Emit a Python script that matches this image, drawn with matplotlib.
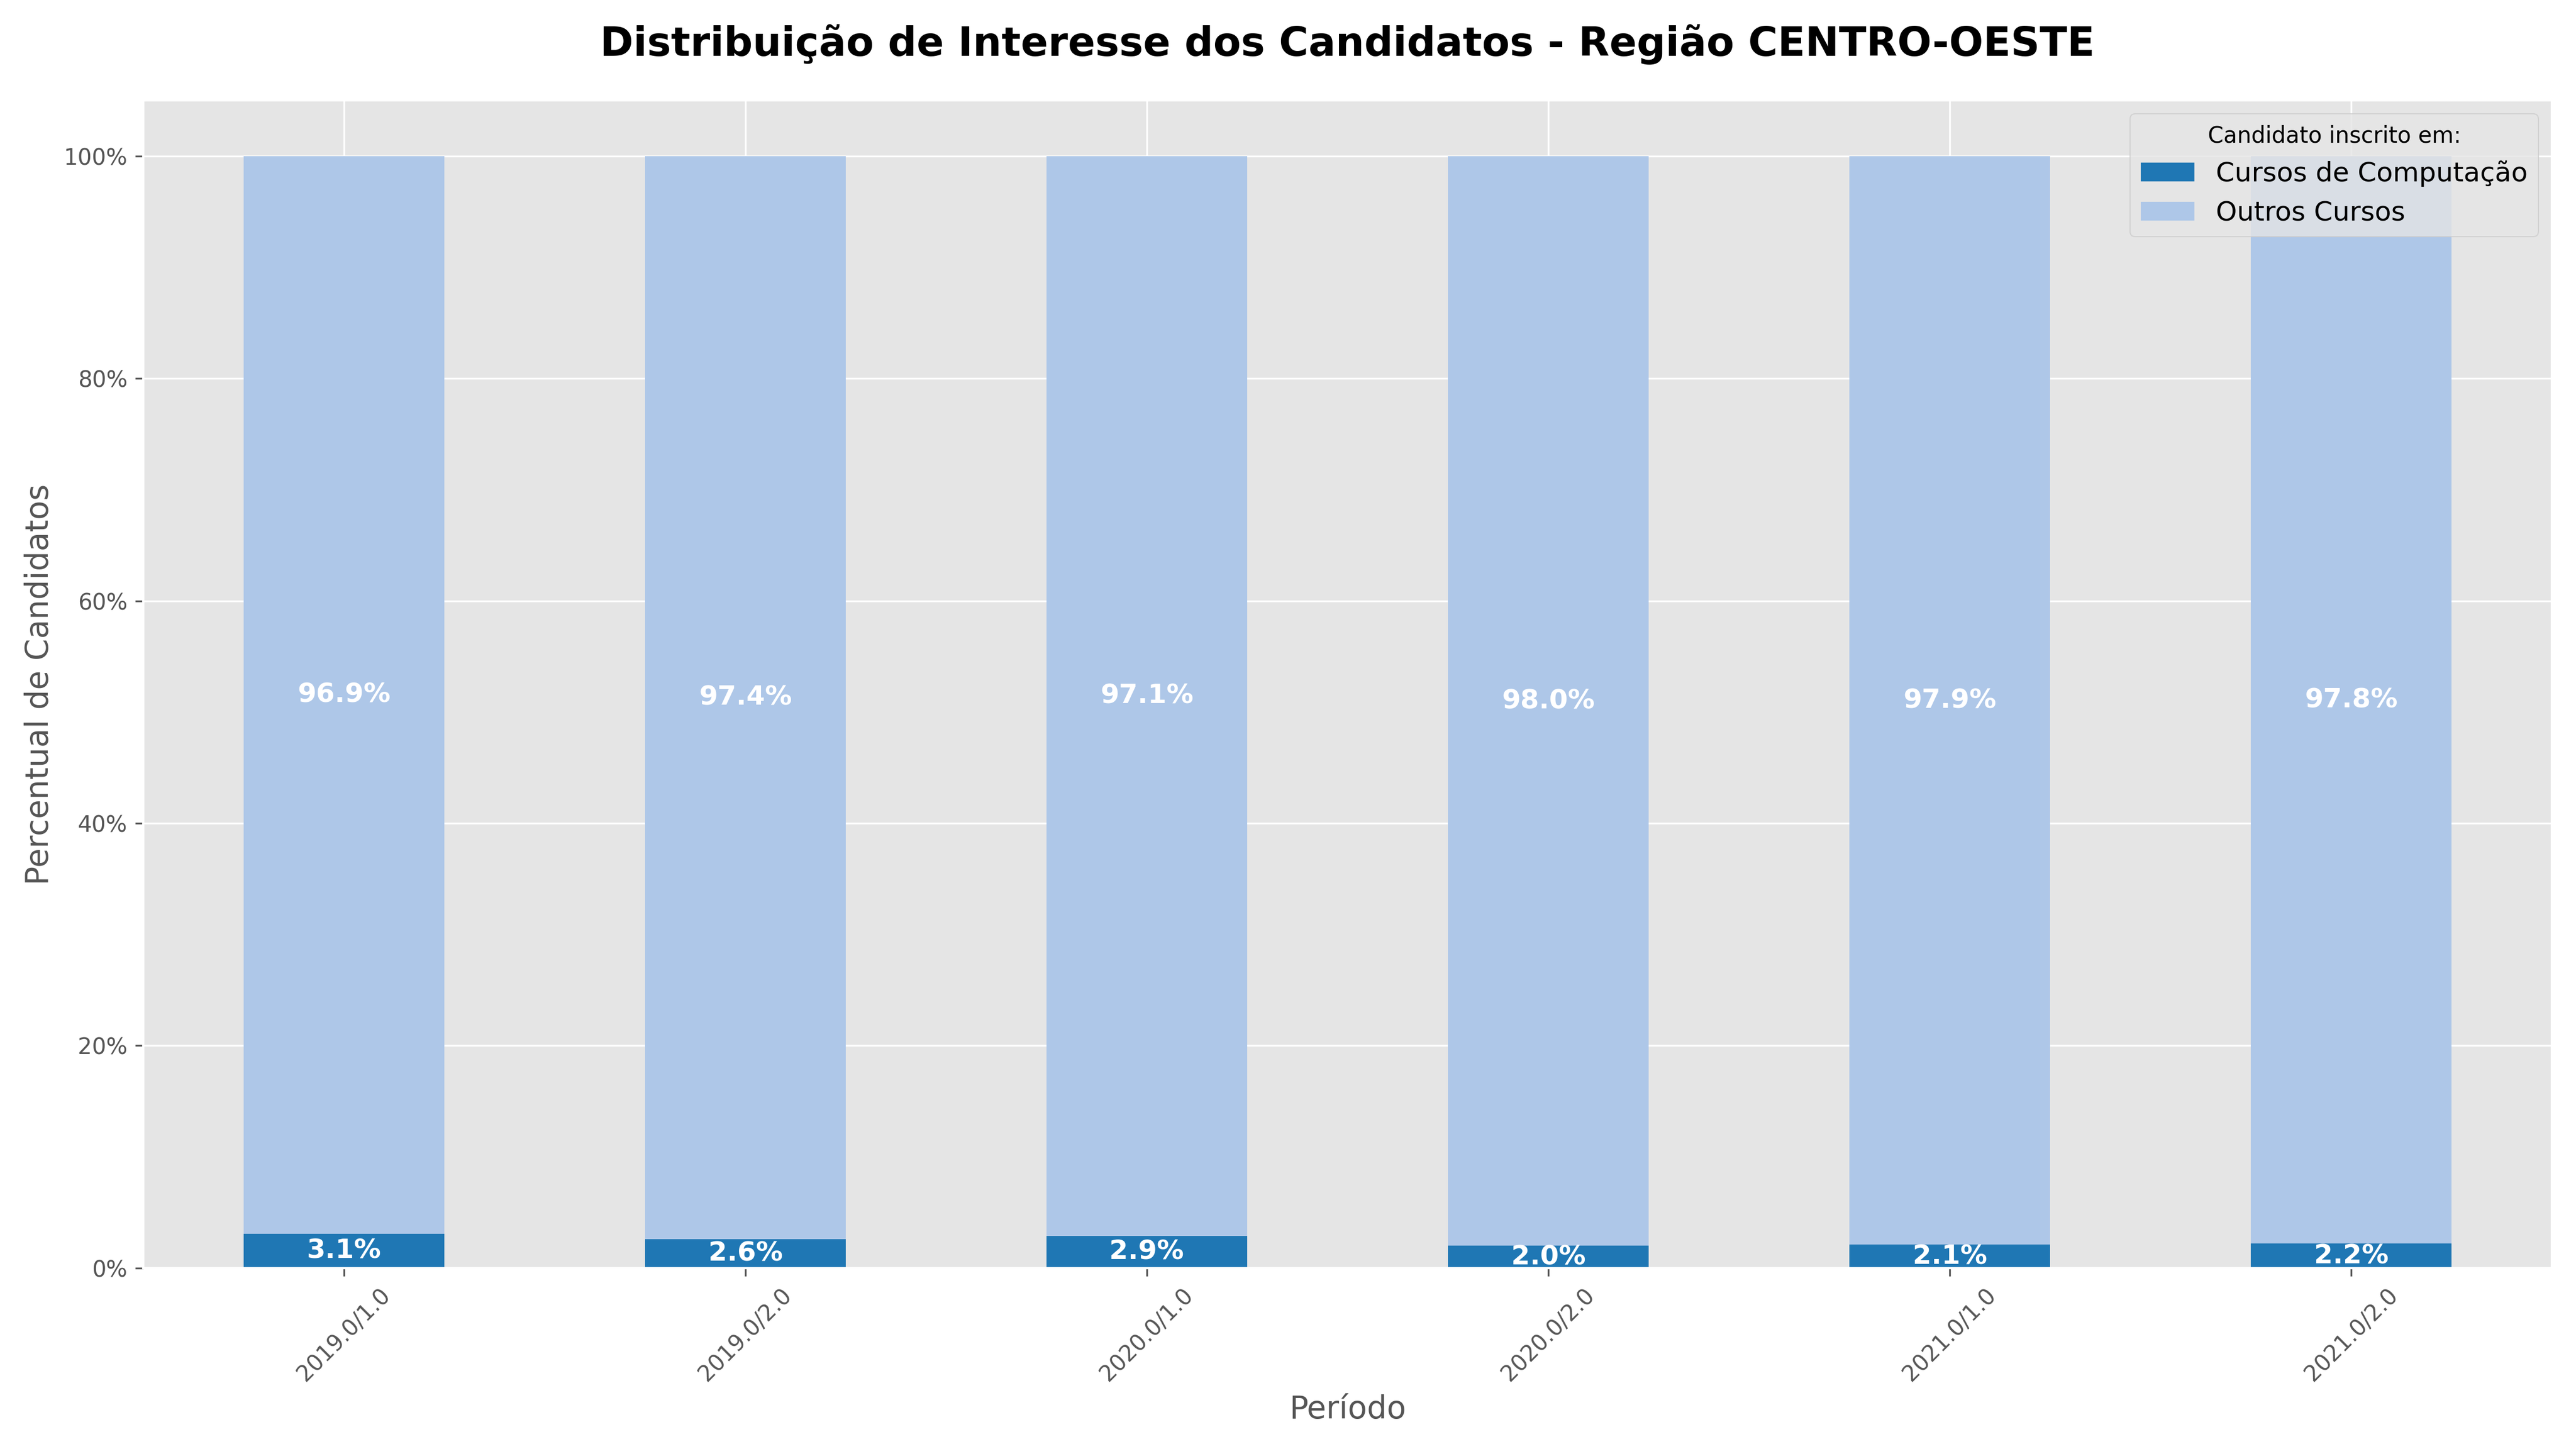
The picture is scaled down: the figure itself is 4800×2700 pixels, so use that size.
import matplotlib
matplotlib.use('Agg')
import matplotlib.pyplot as plt
from matplotlib.ticker import PercentFormatter
import numpy as np

plt.style.use('ggplot')

periodos = ['2019.0/1.0', '2019.0/2.0', '2020.0/1.0', '2020.0/2.0', '2021.0/1.0', '2021.0/2.0']
computacao = [3.1, 2.6, 2.9, 2.0, 2.1, 2.2]
outros = [96.9, 97.4, 97.1, 98.0, 97.9, 97.8]

fig, ax = plt.subplots(figsize=(16, 9), dpi=300)
x = np.arange(len(periodos))
b1 = ax.bar(x, computacao, width=0.5, color='#1f77b4', label='Cursos de Computação')
b2 = ax.bar(x, outros, width=0.5, bottom=computacao, color='#aec7e8', label='Outros Cursos')

for bars in (b1, b2):
    for r in bars:
        h = r.get_height()
        ax.text(r.get_x() + r.get_width() / 2, r.get_y() + h / 2, f'{h:.1f}%',
                ha='center', va='center', color='white', fontweight='bold', fontsize=12)

ax.set_xticks(x)
ax.set_xticklabels(periodos, rotation=45)
ax.set_xlim(-0.5, len(periodos) - 0.5)
ax.set_ylim(0, 105)
ax.yaxis.set_major_formatter(PercentFormatter(decimals=0))
ax.set_xlabel('Período', fontsize=14)
ax.set_ylabel('Percentual de Candidatos', fontsize=14)
ax.set_title('Distribuição de Interesse dos Candidatos - Região CENTRO-OESTE',
             fontsize=18, fontweight='bold', pad=20)
ax.legend(title='Candidato inscrito em:', loc='upper right', fontsize=12, title_fontsize=10)

plt.tight_layout()
plt.savefig('out.png')
